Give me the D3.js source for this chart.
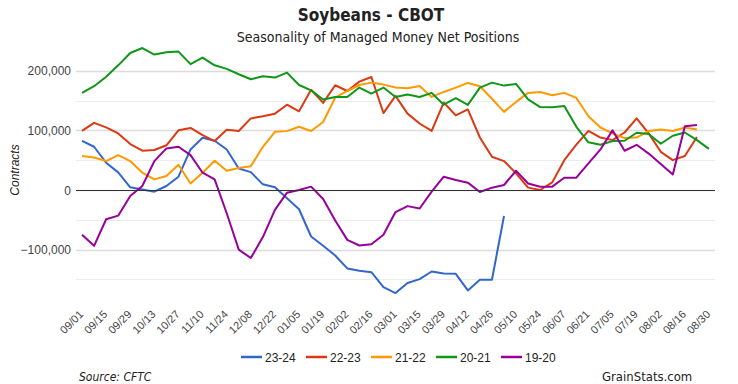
<!DOCTYPE html>
<html>
<head>
<meta charset="utf-8">
<script src="https://cdn.jsdelivr.net/npm/d3@7"></script>
<style>
  body { margin: 0; background: #fff; }
  svg text { font-family: "Liberation Sans", Arial, sans-serif; }
  .head { font-family: "DejaVu Sans Condensed", "DejaVu Sans", sans-serif; font-stretch: condensed; }
</style>
</head>
<body>
<div id="container"></div>
<script>
let w = 738;
let h = 384;

// week labels (every other week shown on the axis)
let weekLabels = ["09/01","09/08","09/15","09/22","09/29","10/06","10/13","10/20","10/27","11/03",
  "11/10","11/17","11/24","12/01","12/08","12/15","12/22","12/29","01/05","01/12",
  "01/19","01/26","02/02","02/09","02/16","02/23","03/01","03/08","03/15","03/22",
  "03/29","04/05","04/12","04/19","04/26","05/03","05/10","05/17","05/24","05/31",
  "06/07","06/14","06/21","06/28","07/05","07/12","07/19","07/26","08/02","08/09",
  "08/16","08/23","08/30"];

let seasons = ["23-24", "22-23", "21-22", "20-21", "19-20"];
let colors = ["#3366cc", "#dc3912", "#ff9900", "#109618", "#990099"];

// net positions, thousands of contracts
let s2324 = [82.5,72.5,45.7,29.5,4.5,1,-2.8,6.7,22.3,68,87.5,82.5,68,36,30,9.5,4.5,-14,-32.3,-78,
  -93.6,-109.8,-131.5,-135.5,-137.7,-162.8,-172.8,-156,-149.4,-136.6,-140,-140.5,-168.3,-150.5,-150.5,-43.5];
let s2223 = [99,112.6,105,94.8,77,66,67,75,100,104,92,82,101,99,120,123.7,128,143,132,168,
  146,175.6,166,181.7,189.5,129,157.7,128,111.5,99,146.6,125,135,88,55.7,48.5,28,4,0,12.8,
  50,76,99,88,83.6,96.4,120,95,64,50,57,89];
let s2122 = [56.9,54.6,48.5,58.5,48.5,29,17.8,23.4,42.4,11,29,49,32.3,37,40,72.5,97.5,98.7,106,99,
  114,155,166,176,180,176.7,171.7,170.6,174.5,156,164.4,171.7,179.5,174,153,131,147.7,162.8,164.4,158.9,
  162.8,154.4,123.7,104.8,94.8,87,88,99,101.5,99,104.8,101.5];
let s2021 = [163,174,190,209,229.6,238,227,231,232,211,222,209,203,194,185.6,190.6,188.4,196.8,176,167,
  151.6,156,156,171.7,161.6,171.7,156,160,156,162.8,143,154,142.7,171.7,180,175,177.8,152,139,138.8,
  141,106,80,75.8,82,82.5,96,94,77.5,91,96.4,83.6,69];
let s1920 = [-75,-93.6,-49,-43,-10,6.7,48.5,69.7,72.5,58.5,29,17.8,-39,-100,-114,-79,-33.4,-4.5,0,5.6,
  -15,-51,-83.6,-93,-91,-75,-37,-27,-31,-2.8,22.3,16.7,12.3,-3.3,3.9,8.4,32.3,11,5.6,5.6,
  20.6,20.6,44.6,68,100,65.8,75.8,61,43.5,26,107,109];

let seriesValues = [s2324, s2223, s2122, s2021, s1920];

let yTicks = [-150000, -100000, -50000, 0, 50000, 100000, 150000, 200000];
let yLabelTicks = [-100000, 0, 100000, 200000];

let plotLeft = 76, plotRight = 715;

let viz = d3.select("#container")
  .append("svg")
    .attr("width", w)
    .attr("height", h)
    .style("background-color", "#fff");

let xScale = d3.scaleLinear().domain([-0.5, weekLabels.length - 0.5]).range([plotLeft, plotRight]);
let yScale = d3.scaleLinear().domain([0, 200000]).range([190, 70.7]);

// gridlines
viz.append("g").selectAll("line").data(yTicks).enter()
  .append("line")
    .attr("x1", plotLeft)
    .attr("x2", plotRight)
    .attr("y1", d => Math.round(yScale(d)) + 0.5)
    .attr("y2", d => Math.round(yScale(d)) + 0.5)
    .style("stroke", d => yLabelTicks.includes(d) ? "#dcdcdc" : "#ececec")
    .style("stroke-width", d => yLabelTicks.includes(d) ? 1.5 : 1);

// y labels
viz.append("g").selectAll("text").data(yLabelTicks).enter()
  .append("text")
    .attr("x", 71)
    .attr("y", d => yScale(d) + 4.5)
    .attr("text-anchor", "end")
    .style("font-size", "12px")
    .style("fill", "#444")
    .text(d => d3.format(",")(d));

viz.append("text")
  .attr("transform", "translate(19,170) rotate(-90)")
  .attr("text-anchor", "middle")
  .style("font-size", "12px")
  .style("font-style", "italic")
  .style("fill", "#222")
  .text("Contracts");

// lines
let line = d3.line()
  .x((d, i) => xScale(i))
  .y(d => yScale(d * 1000));

viz.append("g").selectAll("path").data(seriesValues).enter()
  .append("path")
    .attr("d", line)
    .style("fill", "none")
    .style("stroke", (d, i) => colors[i])
    .style("stroke-width", 2)
    .style("stroke-linejoin", "round");

// zero baseline
viz.append("line")
  .attr("x1", plotLeft).attr("x2", plotRight)
  .attr("y1", Math.round(yScale(0)) + 0.5).attr("y2", Math.round(yScale(0)) + 0.5)
  .style("stroke", "#333")
  .style("stroke-width", 1);

// x labels, every other week
let shown = weekLabels.map((d, i) => ({ label: d, i: i })).filter(d => d.i % 2 == 0);
viz.append("g").selectAll("text").data(shown).enter()
  .append("text")
    .attr("transform", d => "translate(" + (xScale(d.i) + 2) + ",315) rotate(-45)")
    .attr("text-anchor", "end")
    .style("font-size", "11px")
    .style("fill", "#444")
    .text(d => d.label);

// legend
let legend = viz.append("g").selectAll("g").data(seasons).enter()
  .append("g")
    .attr("transform", (d, i) => "translate(" + (241 + i * 65) + ",357)");
legend.append("line")
  .attr("x1", 0).attr("x2", 21)
  .attr("y1", 0).attr("y2", 0)
  .style("stroke", (d, i) => colors[i])
  .style("stroke-width", 2.5);
legend.append("text")
  .attr("x", 24)
  .attr("y", 4.5)
  .style("font-size", "12px")
  .style("fill", "#222")
  .text(d => d);

// titles
viz.append("text")
  .attr("class", "head")
  .attr("x", 371).attr("y", 21)
  .attr("text-anchor", "middle")
  .style("font-size", "17px")
  .style("font-weight", "bold")
  .style("fill", "#222")
  .text("Soybeans - CBOT");

viz.append("text")
  .attr("class", "head")
  .attr("x", 378).attr("y", 42)
  .attr("text-anchor", "middle")
  .style("font-size", "14px")
  .style("fill", "#222")
  .text("Seasonality of Managed Money Net Positions");

viz.append("text")
  .attr("class", "head")
  .attr("x", 79).attr("y", 381)
  .style("font-size", "12px")
  .style("font-style", "italic")
  .style("fill", "#222")
  .text("Source: CFTC");

viz.append("text")
  .attr("class", "head")
  .attr("x", 602).attr("y", 381)
  .style("font-size", "13px")
  .style("fill", "#222")
  .text("GrainStats.com");
</script>
</body>
</html>
